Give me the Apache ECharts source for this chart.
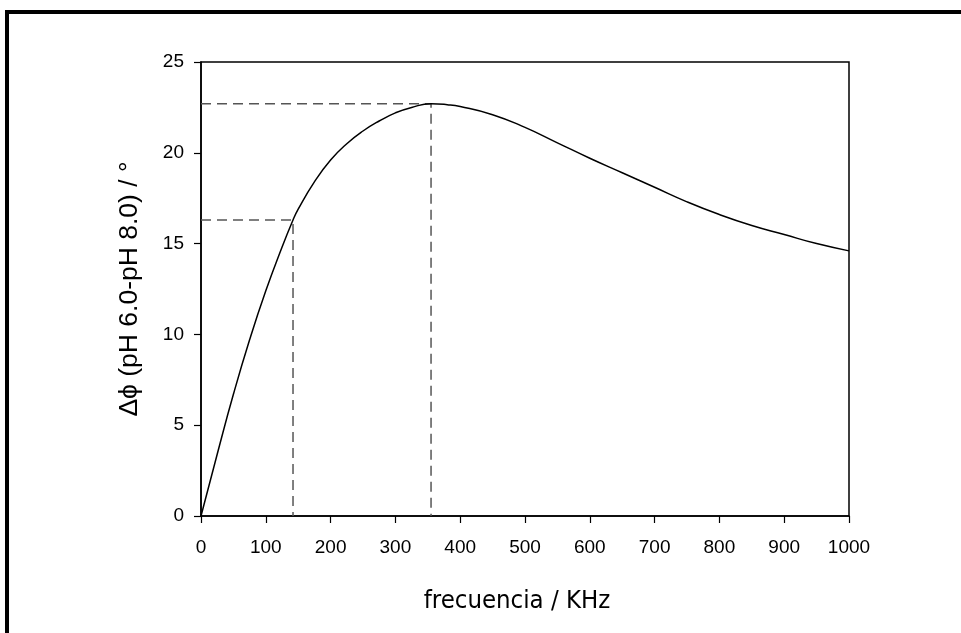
<!DOCTYPE html>
<html>
<head>
<meta charset="utf-8">
<script src="https://cdn.jsdelivr.net/npm/echarts@6/dist/echarts.min.js"></script>
<style>
  html, body { margin: 0; padding: 0; background: #fff; }
  #chart { width: 961px; height: 633px; }
</style>
</head>
<body>
<div id="chart"></div>
<script>
// Phase difference between pH 6.0 and pH 8.0 versus frequency
const frequency = [0, 25, 50, 75, 100, 125, 142, 150, 175, 200, 225, 250, 275, 300, 325, 355,
  380, 400, 450, 500, 550, 600, 650, 700, 750, 800, 850, 900, 950, 1000];
const deltaPhi = [0, 3.4, 6.7, 9.7, 12.4, 14.8, 16.3, 16.9, 18.4, 19.6, 20.5, 21.2, 21.75, 22.2, 22.5, 22.7,
  22.65, 22.55, 22.1, 21.4, 20.55, 19.7, 18.9, 18.1, 17.3, 16.6, 16.0, 15.5, 15.0, 14.6];

// Reference guides: [frequency, phase] of the marked points
const markedFreq = [142, 355];
const markedPhi = [16.3, 22.7];

const xTicks = [0, 100, 200, 300, 400, 500, 600, 700, 800, 900, 1000];
const yTicks = [0, 5, 10, 15, 20, 25];

const curve = frequency.map((f, i) => [f, deltaPhi[i]]);

const guideStyle = { color: '#555', width: 1.5, type: [10, 6] };
const guideSeries = [];
markedFreq.forEach((f, i) => {
  guideSeries.push({
    type: 'line', symbol: 'none', silent: true, z: 1,
    lineStyle: guideStyle,
    data: [[0, markedPhi[i]], [f, markedPhi[i]], [f, 0]]
  });
});

const chart = echarts.init(document.getElementById('chart'), null, { renderer: 'canvas' });
chart.setOption({
  animation: false,
  backgroundColor: '#fff',
  grid: {
    left: 201, top: 62, right: 112, bottom: 117,
    show: true, borderColor: '#000', borderWidth: 1.5, backgroundColor: 'transparent'
  },
  xAxis: {
    type: 'value', min: xTicks[0], max: xTicks[xTicks.length - 1], interval: 100,
    name: 'frecuencia / KHz', nameLocation: 'middle', nameGap: 72,
    nameTextStyle: { fontFamily: 'DejaVu Sans Condensed', fontSize: 25.5, color: '#000', padding: [0, 16, 0, 0] },
    axisLine: { lineStyle: { color: '#000', width: 1.5 } },
    axisTick: { show: true, length: 7, lineStyle: { color: '#000', width: 1.2 } },
    axisLabel: { color: '#000', fontFamily: 'Liberation Sans', fontSize: 19, margin: 22, formatter: v => String(v) },
    splitLine: { show: false }
  },
  yAxis: {
    type: 'value', min: yTicks[0], max: yTicks[yTicks.length - 1], interval: 5,
    name: 'Δϕ (pH 6.0-pH 8.0) / °', nameLocation: 'middle', nameGap: 58,
    nameTextStyle: { fontFamily: 'Liberation Sans', fontSize: 26.5, color: '#000' },
    axisLine: { lineStyle: { color: '#000', width: 1.5 } },
    axisTick: { show: true, length: 7, lineStyle: { color: '#000', width: 1.2 } },
    axisLabel: { color: '#000', fontFamily: 'Liberation Sans', fontSize: 19, margin: 17 },
    splitLine: { show: false }
  },
  graphic: [
    { type: 'line', shape: { x1: 5, y1: 12, x2: 961, y2: 12 }, style: { stroke: '#000', lineWidth: 4 } },
    { type: 'line', shape: { x1: 7, y1: 10, x2: 7, y2: 633 }, style: { stroke: '#000', lineWidth: 4 } }
  ],
  series: guideSeries.concat([{
    type: 'line', symbol: 'none', smooth: 0.5, z: 3,
    lineStyle: { color: '#000', width: 1.5 },
    data: curve
  }])
});
</script>
</body>
</html>
